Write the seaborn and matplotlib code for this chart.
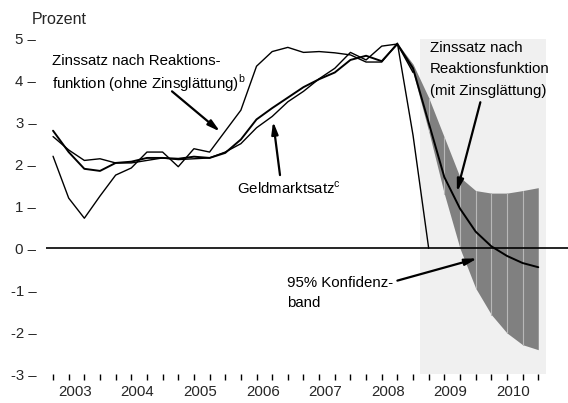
import numpy as np
import pandas as pd
import matplotlib
matplotlib.use("Agg")
import matplotlib.pyplot as plt
import seaborn as sns

# quarterly data, index 0 = 2003 Q1
years = [2003, 2004, 2005, 2006, 2007, 2008, 2009, 2010]

geldmarktsatz = [2.67, 2.35, 2.10, 2.14, 2.04, 2.04, 2.10, 2.16, 2.12, 2.14,
                 2.16, 2.30, 2.50, 2.88, 3.15, 3.50, 3.75, 4.05, 4.30, 4.68,
                 4.50, 4.83, 4.88, 4.20]

ohne_glaettung = [2.20, 1.20, 0.72, 1.25, 1.75, 1.92, 2.30, 2.30, 1.95, 2.38,
                  2.30, 2.80, 3.30, 4.35, 4.70, 4.80, 4.68, 4.70, 4.67, 4.62,
                  4.45, 4.45, 4.90, 2.70, 0.00]

mit_glaettung = [2.81, 2.30, 1.90, 1.85, 2.04, 2.07, 2.16, 2.16, 2.14, 2.19,
                 2.16, 2.28, 2.60, 3.08, 3.35, 3.60, 3.85, 4.04, 4.20, 4.50,
                 4.60, 4.47, 4.88, 4.30, 3.00, 1.70, 0.95, 0.40, 0.05, -0.18,
                 -0.35, -0.45]

# 95% confidence band, from 2008 Q3 (index 22) to 2010 Q4 (index 31)
band_start = 22
band_upper = [4.90, 4.40, 3.60, 2.65, 1.70, 1.38, 1.32, 1.32, 1.38, 1.45]
band_lower = [4.90, 4.20, 2.80, 1.30, 0.00, -0.95, -1.58, -2.02, -2.30, -2.42]

y_ticks = [5, 4, 3, 2, 1, 0, -1, -2, -3]

sns.set_theme(style="white")
plt.rcParams["font.family"] = ["Liberation Sans", "DejaVu Sans"]
plt.rcParams["mathtext.fontset"] = "custom"
plt.rcParams["mathtext.rm"] = "Liberation Sans"

fig = plt.figure(figsize=(5.68, 4.03), dpi=100)
ax = fig.add_axes([46 / 568, 29 / 403, 522 / 568, 335 / 403])

# forecast area
ax.axvspan(23.45, 31.5, color="#f0f0f0", lw=0, zorder=0)

bx = np.arange(band_start, band_start + len(band_upper))
ax.fill_between(bx, band_lower, band_upper, color="#808080", lw=0, zorder=1)
for x, lo, hi in zip(bx[2:-1], band_lower[2:-1], band_upper[2:-1]):
    ax.plot([x, x], [lo, hi], color="#b8b8b8", lw=0.8, zorder=1.5)

ax.axhline(0, color="black", lw=1.2, zorder=2)

df_g = pd.DataFrame({"q": np.arange(len(geldmarktsatz)), "v": geldmarktsatz})
df_o = pd.DataFrame({"q": np.arange(len(ohne_glaettung)), "v": ohne_glaettung})
df_m = pd.DataFrame({"q": np.arange(len(mit_glaettung)), "v": mit_glaettung})
sns.lineplot(data=df_o, x="q", y="v", ax=ax, color="black", lw=1.0, zorder=3)
sns.lineplot(data=df_g, x="q", y="v", ax=ax, color="black", lw=1.0, zorder=3)
sns.lineplot(data=df_m, x="q", y="v", ax=ax, color="black", lw=1.4, zorder=4)

ax.set_xlim(-0.45, 32.9)
ax.set_ylim(-3, 5)
for s in ax.spines.values():
    s.set_visible(False)

ax.set_xticks(np.arange(32))
ax.set_xticklabels([])
ax.set_xticks([1.4 + 4 * k for k in range(len(years))], minor=True)
ax.set_xticklabels([str(y) for y in years], minor=True, fontsize=10.8)
ax.tick_params(axis="x", which="major", direction="out", length=4, width=1,
               color="black", bottom=True)
ax.tick_params(axis="x", which="minor", length=0, pad=8)

ax.set_yticks(y_ticks)
ax.set_yticklabels([f"{t} \u2013" for t in y_ticks], fontsize=10.8)
ax.tick_params(axis="y", length=0, pad=7)
ax.set_xlabel("")
ax.set_ylabel("")

fig.text(32 / 568, 1 - 20 / 403, "Prozent", fontsize=11.5, va="center")

txt = dict(fontsize=10.8, va="center", ha="left", color="black")
ax.text(-0.06, 4.47, "Zinssatz nach Reaktions-", **txt)
ax.text(-0.06, 3.94, r"funktion (ohne Zinsglättung)$^{\mathrm{b}}$", **txt)
ax.text(11.76, 1.44, r"Geldmarktsatz$^{\mathrm{c}}$", **txt)
ax.text(24.09, 4.78, "Zinssatz nach", **txt)
ax.text(24.09, 4.28, "Reaktionsfunktion", **txt)
ax.text(24.09, 3.77, "(mit Zinsglättung)", **txt)
ax.text(14.95, -0.82, "95% Konfidenz-", **txt)
ax.text(14.95, -1.30, "band", **txt)

arrow = dict(arrowstyle="-|>,head_length=0.6,head_width=0.16", color="black",
             lw=1.6, shrinkA=0, shrinkB=0)
ax.annotate("", xy=(10.67, 2.79), xytext=(7.6, 3.75), arrowprops=arrow, zorder=5)
ax.annotate("", xy=(14.06, 3.03), xytext=(14.5, 1.75), arrowprops=arrow, zorder=5)
ax.annotate("", xy=(25.8, 1.35), xytext=(27.3, 3.49), arrowprops=arrow, zorder=5)
ax.annotate("", xy=(27.1, -0.24), xytext=(22.0, -0.77), arrowprops=arrow, zorder=5)

fig.savefig("out.png", dpi=100)
